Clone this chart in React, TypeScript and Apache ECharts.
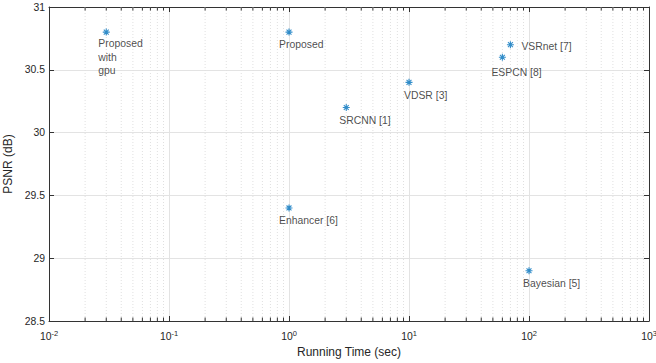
import React, { useEffect, useRef } from "react";
import * as echarts from "echarts";

// ---- data ----
const methods = [
  "Proposed\nwith\ngpu",
  "Proposed",
  "SRCNN [1]",
  "VDSR [3]",
  "ESPCN [8]",
  "VSRnet [7]",
  "Enhancer [6]",
  "Bayesian [5]",
];
const runningTimes = [0.03, 1, 3, 10, 60, 70, 1, 100];
const psnrValues = [30.8, 30.8, 30.2, 30.4, 30.6, 30.7, 29.4, 28.9];

const X_MIN = 0.01;
const X_MAX = 1000;
const Y_MIN = 28.5;
const Y_MAX = 31;
const Y_INTERVAL = 0.5;
const minorMultipliers = [2, 3, 4, 5, 6, 7, 8, 9];
const decades = [0.01, 0.1, 1, 10, 100];

const xTitle = "Running Time (sec)";
const yTitle = "PSNR (dB)";

// label offsets (style only): [dx, dy] from marker centre
const labelOffsets: number[][] = [
  [-8, 5],
  [-10, 5.5],
  [-7, 6.2],
  [-5, 6.2],
  [-11, 9],
  [11, -4.8],
  [-10, 6],
  [-6, 6],
];

const FONT = "'Liberation Sans', Arial, Helvetica, sans-serif";
const AXIS_COLOR = "#333333";
const TEXT_COLOR = "#262626";
const BLUE = "#0072BD";

export default function App() {
  const ref = useRef<HTMLDivElement>(null);

  useEffect(() => {
    if (!ref.current) return;
    const chart = echarts.init(ref.current, undefined, { renderer: "svg" });

    const minorValues: number[] = [];
    decades.forEach((d) => minorMultipliers.forEach((m) => minorValues.push(d * m)));

    const expLabel = (v: number) => {
      const e = Math.round(Math.log10(v));
      return `{a|10}{b|${e}}`;
    };

    const option: any = {
      animation: false,
      backgroundColor: "#ffffff",
      textStyle: { fontFamily: FONT },
      grid: {
        left: 49,
        right: 7,
        top: 7,
        bottom: 42,
        containLabel: false,
        outerBoundsMode: "none",
      },
      xAxis: [
        {
          type: "log",
          logBase: 10,
          min: X_MIN,
          max: X_MAX,
          position: "bottom",
          name: xTitle,
          nameLocation: "middle",
          nameGap: 25,
          nameTextStyle: { color: TEXT_COLOR, fontSize: 12, fontFamily: FONT },
          axisLine: { show: true, lineStyle: { color: AXIS_COLOR, width: 1 } },
          axisTick: { show: true, inside: true, length: 5, lineStyle: { color: AXIS_COLOR } },
          axisLabel: {
            show: true,
            margin: 8,
            formatter: expLabel,
            rich: {
              a: { fontSize: 10.4, color: TEXT_COLOR, fontFamily: FONT },
              b: { fontSize: 7.5, color: TEXT_COLOR, fontFamily: FONT, padding: [0, 0, 7, 0] },
            },
          },
          splitLine: { show: true, lineStyle: { color: "#e3e3e3", width: 1 } },
          minorTick: { show: false },
        },
        {
          type: "log",
          logBase: 10,
          min: X_MIN,
          max: X_MAX,
          position: "top",
          axisLine: { show: true, lineStyle: { color: AXIS_COLOR, width: 1 } },
          axisTick: { show: true, inside: true, length: 5, lineStyle: { color: AXIS_COLOR } },
          axisLabel: { show: false },
          splitLine: { show: false },
        },
      ],
      yAxis: [
        {
          type: "value",
          min: Y_MIN,
          max: Y_MAX,
          interval: Y_INTERVAL,
          position: "left",
          name: yTitle,
          nameLocation: "middle",
          nameGap: 30,
          nameRotate: 90,
          nameTextStyle: { color: TEXT_COLOR, fontSize: 12, fontFamily: FONT },
          axisLine: { show: true, lineStyle: { color: AXIS_COLOR, width: 1 } },
          axisTick: { show: true, inside: true, length: 5, lineStyle: { color: AXIS_COLOR } },
          axisLabel: {
            show: true,
            margin: 4,
            color: TEXT_COLOR,
            fontSize: 10.4,
            fontFamily: FONT,
          },
          splitLine: { show: true, lineStyle: { color: "#e3e3e3", width: 1 } },
        },
        {
          type: "value",
          min: Y_MIN,
          max: Y_MAX,
          interval: Y_INTERVAL,
          position: "right",
          axisLine: { show: true, lineStyle: { color: AXIS_COLOR, width: 1 } },
          axisTick: { show: true, inside: true, length: 5, lineStyle: { color: AXIS_COLOR } },
          axisLabel: { show: false },
          splitLine: { show: false },
        },
      ],
      series: [
        {
          type: "custom",
          xAxisIndex: 0,
          yAxisIndex: 0,
          silent: true,
          z: 1,
          data: minorValues.map((v) => [v, Y_MIN]),
          encode: { x: 0, y: 1 },
          renderItem: (params: any, api: any) => {
            const v = api.value(0);
            const top = api.coord([v, Y_MAX]);
            const bot = api.coord([v, Y_MIN]);
            return {
              type: "group",
              children: [
                {
                  type: "line",
                  shape: { x1: top[0], y1: top[1], x2: bot[0], y2: bot[1] },
                  style: { stroke: "#e0e0e0", lineWidth: 1, lineDash: [1, 2] },
                },
                {
                  type: "line",
                  shape: { x1: bot[0], y1: bot[1], x2: bot[0], y2: bot[1] - 3.5 },
                  style: { stroke: AXIS_COLOR, lineWidth: 1 },
                },
                {
                  type: "line",
                  shape: { x1: top[0], y1: top[1], x2: top[0], y2: top[1] + 3.5 },
                  style: { stroke: AXIS_COLOR, lineWidth: 1 },
                },
              ],
            };
          },
        },
        {
          type: "scatter",
          xAxisIndex: 0,
          yAxisIndex: 0,
          z: 5,
          symbol: "path://M4 0V8M0 4H8M1.2 1.2L6.8 6.8M6.8 1.2L1.2 6.8",
          symbolSize: 7,
          itemStyle: { color: "rgba(0,0,0,0)", borderColor: BLUE, borderWidth: 1.1 },
          label: {
            show: true,
            position: "inside",
            align: "left",
            verticalAlign: "top",
            color: "#1a1a1a",
            fontSize: 10.4,
            lineHeight: 13.5,
            fontFamily: FONT,
            formatter: (p: any) => p.name,
          },
          data: methods.map((name, i) => ({
            name,
            value: [runningTimes[i], psnrValues[i]],
            label: { offset: labelOffsets[i] },
          })),
        },
      ],
    };

    chart.setOption(option);
    return () => chart.dispose();
  }, []);

  return (
    <div
      ref={ref}
      style={{ position: "fixed", left: 0, top: 0, width: 656, height: 363, background: "#fff" }}
    />
  );
}
